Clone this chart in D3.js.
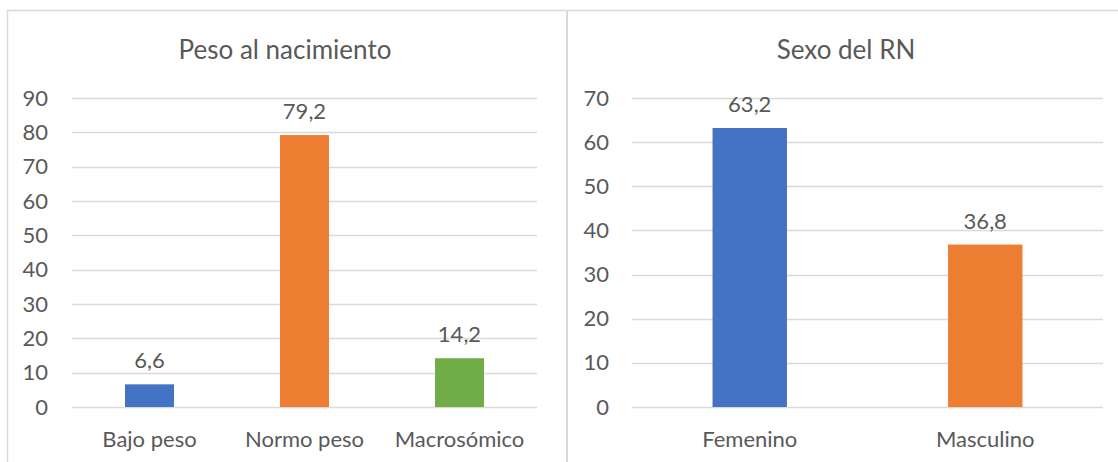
<!DOCTYPE html>
<html>
<head>
<meta charset="utf-8">
<script src="https://cdn.jsdelivr.net/npm/d3@7"></script>
<style>
  html, body { margin: 0; padding: 0; background: #fff; }
  svg { display: block; }
  text { font-family: Lato, "Open Sans", sans-serif; fill: #595959; }
</style>
</head>
<body>
<svg id="chart" width="1118" height="462"></svg>
<script>
// Birth weight categories (%)
const pesoCategories = ["Bajo peso", "Normo peso", "Macrosómico"];
const pesoValues = [6.6, 79.2, 14.2];
const pesoColors = ["#4472C4", "#ED7D31", "#70AD47"];
const pesoTicks = [0, 10, 20, 30, 40, 50, 60, 70, 80, 90];

// Newborn sex (%)
const sexoCategories = ["Femenino", "Masculino"];
const sexoValues = [63.2, 36.8];
const sexoColors = ["#4472C4", "#ED7D31"];
const sexoTicks = [0, 10, 20, 30, 40, 50, 60, 70];

const svg = d3.select("#chart");
const fmt = v => String(v).replace(".", ",");
const borderColor = "#D9D9D9";
const labelSize = 22;

// panel frames
svg.append("line").attr("x1", 7).attr("x2", 1118).attr("y1", 10.5).attr("y2", 10.5)
  .attr("stroke", borderColor).attr("stroke-width", 1.5);
svg.append("line").attr("x1", 7.5).attr("x2", 7.5).attr("y1", 10).attr("y2", 462)
  .attr("stroke", borderColor).attr("stroke-width", 1.5);
svg.append("line").attr("x1", 567).attr("x2", 567).attr("y1", 10).attr("y2", 462)
  .attr("stroke", borderColor).attr("stroke-width", 2);

function drawPanel(cfg) {
  const g = svg.append("g");
  const x = d3.scaleBand()
    .domain(cfg.categories)
    .range([cfg.x0, cfg.x1])
    .paddingInner(0.684)
    .paddingOuter(0.342);
  const y = d3.scaleLinear()
    .domain([0, d3.max(cfg.ticks)])
    .range([407, 98]);

  // title
  g.append("text")
    .attr("x", cfg.titleX).attr("y", 59)
    .attr("text-anchor", "middle")
    .attr("font-size", 26)
    .text(cfg.title);

  // gridlines
  g.selectAll(".grid").data(cfg.ticks).join("line")
    .attr("x1", cfg.x0).attr("x2", cfg.x1)
    .attr("y1", d => Math.round(y(d)) + 0.5).attr("y2", d => Math.round(y(d)) + 0.5)
    .attr("stroke", "#D9D9D9").attr("stroke-width", 1.3);

  // y axis labels
  const yAxis = d3.axisLeft(y).tickValues(cfg.ticks).tickSize(0).tickPadding(0).tickFormat(d => d);
  const ya = g.append("g").attr("transform", `translate(${cfg.labelRight},0)`).call(yAxis);
  ya.select(".domain").remove();
  ya.selectAll("text").attr("font-size", labelSize).attr("fill", "#595959")
    .attr("font-family", "Lato, 'Open Sans', sans-serif");

  // bars
  g.selectAll(".bar").data(cfg.values).join("rect")
    .attr("x", (d, i) => x(cfg.categories[i]))
    .attr("width", x.bandwidth())
    .attr("y", d => y(d))
    .attr("height", d => y(0) - y(d))
    .attr("fill", (d, i) => cfg.colors[i]);

  // value labels
  g.selectAll(".val").data(cfg.values).join("text")
    .attr("x", (d, i) => x(cfg.categories[i]) + x.bandwidth() / 2)
    .attr("y", d => y(d) - 16)
    .attr("text-anchor", "middle")
    .attr("font-size", labelSize)
    .text(d => fmt(d));

  // category labels
  g.selectAll(".cat").data(cfg.categories).join("text")
    .attr("x", d => x(d) + x.bandwidth() / 2)
    .attr("y", 447)
    .attr("text-anchor", "middle")
    .attr("font-size", labelSize)
    .text(d => d);
}

drawPanel({
  title: "Peso al nacimiento", titleX: 285,
  categories: pesoCategories, values: pesoValues, colors: pesoColors, ticks: pesoTicks,
  x0: 72, x1: 537, labelRight: 48
});

drawPanel({
  title: "Sexo del RN", titleX: 846,
  categories: sexoCategories, values: sexoValues, colors: sexoColors, ticks: sexoTicks,
  x0: 632, x1: 1103, labelRight: 609
});
</script>
</body>
</html>
